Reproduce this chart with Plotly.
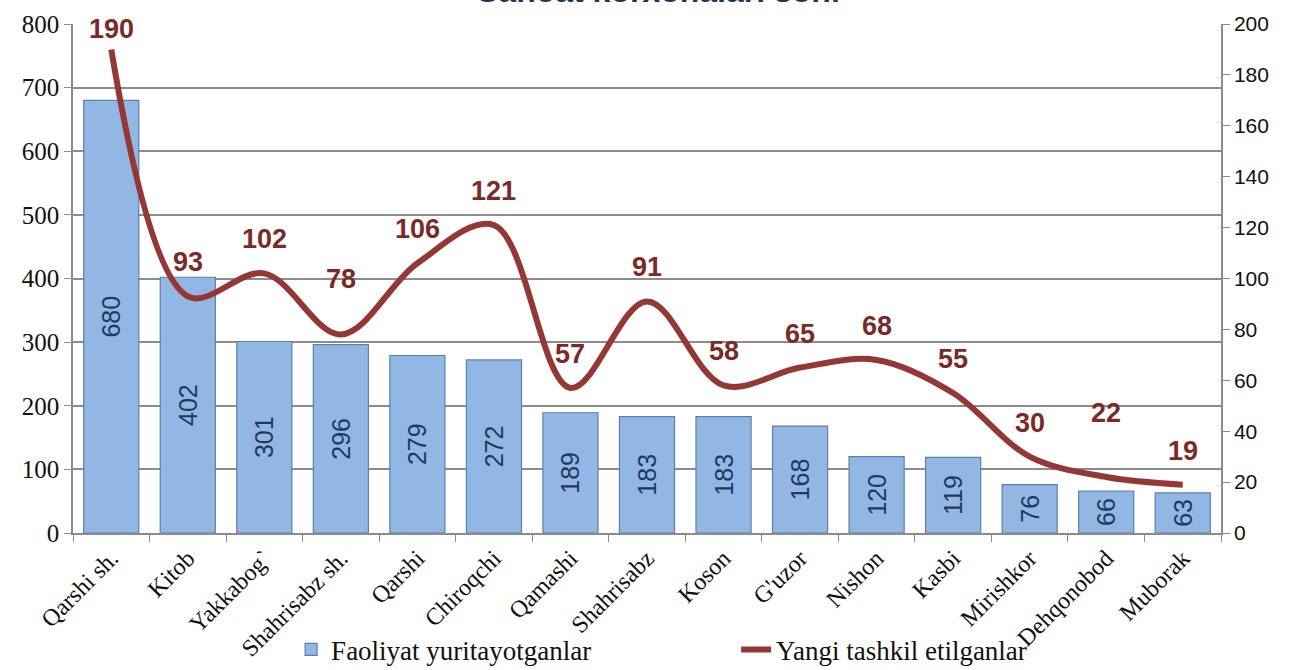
"""Sanoat korxonalari soni: bars on the left axis, smoothed line on the right axis."""

import plotly.graph_objects as go

# ---------------------------------------------------------------------------
# Data
# ---------------------------------------------------------------------------

districts = [
    "Qarshi sh.", "Kitob", "Yakkabog`", "Shahrisabz sh.", "Qarshi", "Chiroqchi",
    "Qamashi", "Shahrisabz", "Koson", "G'uzor", "Nishon", "Kasbi",
    "Mirishkor", "Dehqonobod", "Muborak",
]
active = [680, 402, 301, 296, 279, 272, 189, 183, 183, 168, 120, 119, 76, 66, 63]
new_ones = [190, 93, 102, 78, 106, 121, 57, 91, 58, 65, 68, 55, 30, 22, 19]

BAR_FILL = "#92B7E4"
BAR_EDGE = "#5A80B2"
BAR_TEXT = "#1F3A60"
LINE_COLOR = "#953735"
LABEL_COLOR = "#7B2A28"
GRID = "#8C8C8C"
SERIF = "Liberation Serif, Times New Roman, serif"
SANS = "Liberation Sans, Arial, sans-serif"

# a few labels sit higher / lower than the default offset
label_shift = {"Qarshi sh.": 20, "Shahrisabz sh.": 55, "Dehqonobod": 64}

fig = go.Figure()

fig.add_trace(
    go.Bar(
        x=districts,
        y=active,
        name="Faoliyat yuritayotganlar",
        marker={"color": BAR_FILL, "line": {"color": BAR_EDGE, "width": 1.2}},
        width=0.72,
        text=[str(v) for v in active],
        textposition="inside",
        insidetextanchor="middle",
        textangle=-90,
        constraintext="none",
        textfont={"family": SANS, "size": 25, "color": BAR_TEXT},
        cliponaxis=False,
    )
)

fig.add_trace(
    go.Scatter(
        x=districts,
        y=new_ones,
        yaxis="y2",
        mode="lines",
        name="Yangi tashkil etilganlar",
        line={"color": LINE_COLOR, "width": 6, "shape": "spline", "smoothing": 1.0},
        cliponaxis=False,
    )
)

for name, val in zip(districts, new_ones):
    fig.add_annotation(
        x=name,
        y=val,
        yref="y2",
        text=f"<b>{val}</b>",
        showarrow=False,
        yshift=label_shift.get(name, 34),
        font={"family": SANS, "size": 27, "color": LABEL_COLOR},
    )

# title mostly sits above the visible page, only its lower edge shows
fig.add_annotation(
    x=0.51,
    y=1.025,
    xref="paper",
    yref="paper",
    yanchor="bottom",
    text="<b>Sanoat korxonalari soni</b>",
    showarrow=False,
    font={"family": SANS, "size": 32, "color": "#17375E"},
)

fig.update_layout(
    width=1290,
    height=670,
    margin={"l": 73, "r": 69, "t": 24, "b": 137, "autoexpand": False},
    paper_bgcolor="white",
    plot_bgcolor="white",
    showlegend=True,
    legend={
        "orientation": "h",
        "x": 0.19,
        "y": 0.03,
        "xref": "paper",
        "yref": "container",
        "xanchor": "left",
        "yanchor": "middle",
        "bgcolor": "rgba(0,0,0,0)",
        "entrywidth": 400,
        "font": {"family": SERIF, "size": 27, "color": "#111"},
    },
    xaxis={
        "tickangle": -45,
        "tickfont": {"family": SERIF, "size": 24, "color": "#111"},
        "showline": True,
        "linecolor": GRID,
        "linewidth": 1.5,
        "ticks": "outside",
        "ticklen": 7,
        "tickcolor": GRID,
        "tickson": "boundaries",
        "showgrid": False,
        "automargin": False,
    },
    yaxis={
        "range": [0, 800],
        "dtick": 100,
        "showgrid": True,
        "gridcolor": GRID,
        "gridwidth": 1.5,
        "showline": True,
        "linecolor": GRID,
        "linewidth": 1.5,
        "ticks": "outside",
        "ticklen": 7,
        "tickcolor": GRID,
        "zeroline": False,
        "automargin": False,
        "tickfont": {"family": SERIF, "size": 25, "color": "#111"},
    },
    yaxis2={
        "range": [0, 200],
        "dtick": 20,
        "overlaying": "y",
        "side": "right",
        "showgrid": False,
        "showline": True,
        "linecolor": GRID,
        "linewidth": 1.5,
        "ticks": "outside",
        "ticklen": 7,
        "tickcolor": GRID,
        "zeroline": False,
        "automargin": False,
        "tickfont": {"family": SANS, "size": 21, "color": "#111"},
    },
)

# drop the default body margin so the figure sits flush with the window
fig.write_html(
    "out.html",
    config={"displayModeBar": False},
    post_script="document.body.style.margin='0';",
)
